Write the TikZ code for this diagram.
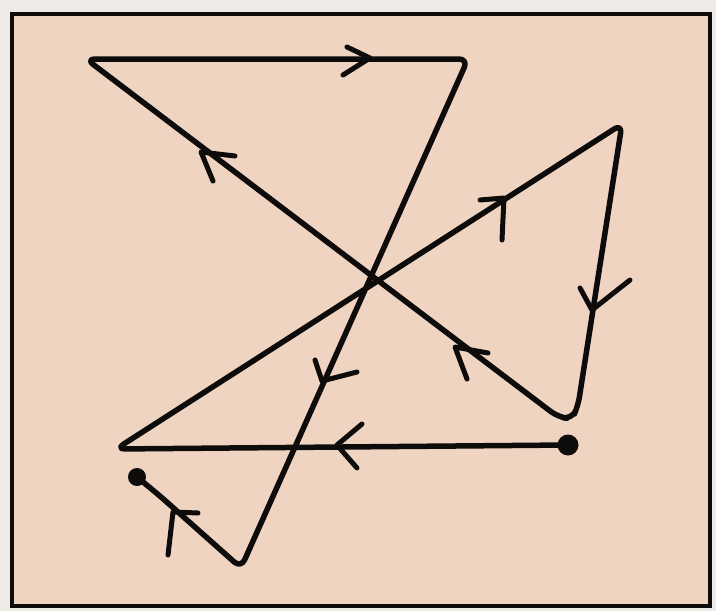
\documentclass[tikz,border=0pt]{standalone}
\definecolor{paper}{RGB}{240,212,194}
\definecolor{margin}{RGB}{238,234,230}
\definecolor{ink}{RGB}{14,11,11}
\begin{document}
\begin{tikzpicture}[x=1pt,y=-1pt,
  pen/.style={draw=ink,line width=5.5pt,line cap=round,line join=round},
  chev/.style={draw=ink,line width=5pt,line cap=round,line join=round},
  dotnode/.style={circle,fill=ink,inner sep=0pt,minimum size=21pt}]
\fill[margin] (0,0) rectangle (716,611);
\useasboundingbox (0,0) rectangle (716,611);
\filldraw[fill=paper,draw=ink,line width=3.5pt] (12,14) rectangle (710,606);
% corners of the stroke
\coordinate (c1) at (116,449);
\coordinate (c2) at (622,124);
\coordinate (c3) at (578,406);
\coordinate (c3b) at (572,419);
\coordinate (c4) at (558,417);
\coordinate (c5) at (86,59);
\coordinate (c6) at (468,59);
\coordinate (c7) at (241,568);
\coordinate (c8) at (160,496);
\node[dotnode] (s) at (568,445) {};
\node[dotnode,minimum size=18pt] (e) at (137,477) {};
\draw[pen,rounded corners=9pt] (s.center) -- (c1) -- (c2) -- (c3) -- (c3b) -- (c4)
  -- (c5) -- (c6) -- (c7) -- (c8) -- (e.center);
% arrow chevrons
\draw[chev] (362,424) -- (337,445) -- (357,468);
\draw[chev] (480,200) -- (504,198) -- (502,240);
\draw[chev] (580,288) -- (592,310) -- (630,280);
\draw[chev] (488,353) -- (455,347) -- (467,379);
\draw[chev] (235,156) -- (201,152) -- (213,181);
\draw[chev] (347,47) -- (370,58) -- (343,75);
\draw[chev] (315,360) -- (322,381) -- (357,372);
\draw[chev] (198,513) -- (173,512) -- (168,555);
\end{tikzpicture}
\end{document}
